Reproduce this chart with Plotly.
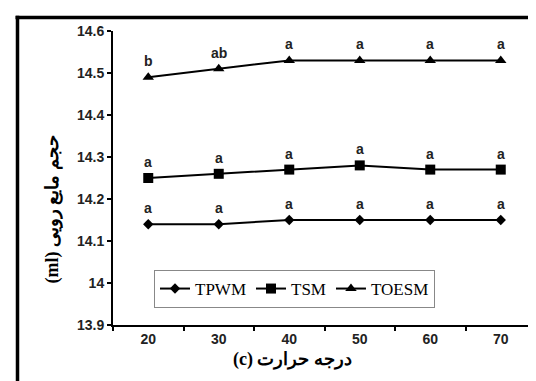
import plotly.graph_objects as go

temps = ["20", "30", "40", "50", "60", "70"]
tpwm = [14.14, 14.14, 14.15, 14.15, 14.15, 14.15]
tsm = [14.25, 14.26, 14.27, 14.28, 14.27, 14.27]
toesm = [14.49, 14.51, 14.53, 14.53, 14.53, 14.53]
tpwm_letters = ["a", "a", "a", "a", "a", "a"]
tsm_letters = ["a", "a", "a", "a", "a", "a"]
toesm_letters = ["b", "ab", "a", "a", "a", "a"]
y_ticks = [13.9, 14.0, 14.1, 14.2, 14.3, 14.4, 14.5, 14.6]
y_ticktext = ["13.9", "14", "14.1", "14.2", "14.3", "14.4", "14.5", "14.6"]

W, H = 536, 381
L, R, T, B = 105, 8, 23, 64
pw, ph = W - L - R, H - T - B


def px_x(px):
    return (px - L) / pw


def px_y(py):
    return (H - B - py) / ph


fig = go.Figure()
series = [
    ("TPWM", tpwm, "diamond", 8, tpwm_letters),
    ("TSM", tsm, "square", 10, tsm_letters),
    ("TOESM", toesm, "triangle-up", 10, toesm_letters),
]
for name, vals, sym, size, _ in series:
    fig.add_trace(go.Scatter(
        x=temps, y=vals, name=name, mode="lines+markers",
        line=dict(color="black", width=2),
        marker=dict(symbol=sym, size=size, color="black"),
    ))

annotations = []
for name, vals, sym, size, letters in series:
    for i, (yv, lt) in enumerate(zip(vals, letters)):
        annotations.append(dict(
            x=i, y=yv, xref="x", yref="y", text=lt, showarrow=False,
            yanchor="middle", yshift=16,
            font=dict(family="Arial", size=14, color="#222222", weight="bold"),
        ))

annotations.append(dict(
    x=px_x(284), y=px_y(364), xref="paper", yref="paper",
    text="(c) درجه حرارت", showarrow=False,
    font=dict(family="Times New Roman", size=18, color="black", weight="bold"),
))
annotations.append(dict(
    x=px_x(31), y=px_y(202), xref="paper", yref="paper",
    text="(ml) حجم مایع رویی", showarrow=False, textangle=-90,
    font=dict(family="Times New Roman", size=18, color="black", weight="bold"),
))

shapes = [
    dict(type="line", xref="paper", yref="paper",
         x0=px_x(7.5), x1=px_x(545), y0=px_y(9.5), y1=px_y(9.5),
         line=dict(color="black", width=3.5)),
    dict(type="line", xref="paper", yref="paper",
         x0=px_x(9.5), x1=px_x(9.5), y0=px_y(7.8), y1=px_y(390),
         line=dict(color="black", width=3.5)),
]

fig.update_layout(
    width=W, height=H,
    margin=dict(l=L, r=R, t=T, b=B),
    paper_bgcolor="white", plot_bgcolor="white",
    showlegend=True,
    legend=dict(
        orientation="h", x=px_x(146), y=px_y(262), xanchor="left", yanchor="top",
        bgcolor="white", bordercolor="#888888", borderwidth=1,
        font=dict(family="Times New Roman", size=17, color="black"),
        itemwidth=30, tracegroupgap=0,
    ),
    annotations=annotations,
    shapes=shapes,
)
fig.update_xaxes(
    type="category", range=[-0.5, 5.5], tickson="boundaries",
    showline=True, linecolor="black", linewidth=2,
    ticks="outside", ticklen=4, tickcolor="black", tickwidth=2,
    showgrid=False, zeroline=False,
    tickfont=dict(family="Arial", size=14, color="#222222", weight="bold"),
)
fig.update_yaxes(
    range=[13.9, 14.6], tickvals=y_ticks, ticktext=y_ticktext,
    showline=True, linecolor="black", linewidth=2,
    ticks="outside", ticklen=4, tickcolor="black", tickwidth=2,
    showgrid=False, zeroline=False,
    tickfont=dict(family="Arial", size=14, color="#222222", weight="bold"),
)

fig.write_html("out.html")
